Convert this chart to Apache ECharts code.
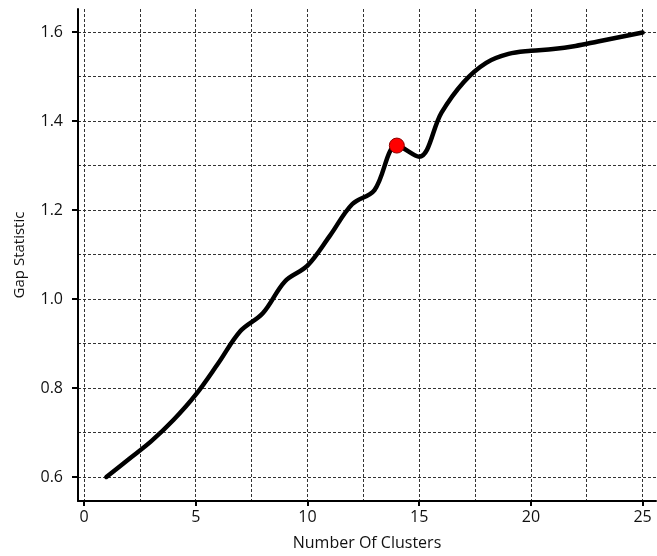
<!DOCTYPE html>
<html>
<head>
<meta charset="utf-8">
<script src="https://cdn.jsdelivr.net/npm/echarts@6/dist/echarts.min.js"></script>
<style>html,body{margin:0;padding:0;background:#fff}#c{width:657px;height:556px}</style>
</head>
<body>
<div id="c"></div>
<script>
const clusters = [1,2,3,4,5,6,7,8,9,10,11,12,13,14,15,16,17,18,19,20,21,22,23,24,25];
const gapValues = [0.600,0.640,0.680,0.728,0.785,0.855,0.928,0.968,1.040,1.075,1.142,1.213,1.245,1.345,1.320,1.419,1.488,1.531,1.551,1.558,1.562,1.569,1.579,1.589,1.599];
const bestK = 14;
const bestGap = 1.345;
const xLabelTicks = [0,5,10,15,20,25];
const xGridTicks = [0,2.5,5,7.5,10,12.5,15,17.5,20,22.5,25];
const yLabelTicks = [0.6,0.8,1.0,1.2,1.4,1.6];
const yGridTicks = [0.6,0.7,0.8,0.9,1.0,1.1,1.2,1.3,1.4,1.5,1.6];
const xTitle = 'Number Of Clusters';
const yTitle = 'Gap Statistic';

const font = '"Open Sans", "Noto Sans", sans-serif';
const txt = '#111';
const chart = echarts.init(document.getElementById('c'), null, {renderer: 'canvas'});
const xMin = -0.27, xMax = 25.6, yMin = 0.546, yMax = 1.652;
const dashed = {show: true, lineStyle: {color: '#333', width: 1, type: [3, 2]}};
chart.setOption({
  animation: false,
  backgroundColor: '#fff',
  grid: {left: 78, right: 1, top: 9, bottom: 53.5, containLabel: false},
  xAxis: [
    {
      type: 'value', min: xMin, max: xMax, position: 'bottom',
      name: xTitle, nameLocation: 'middle', nameGap: 34,
      nameTextStyle: {fontFamily: font, fontSize: 16, color: txt},
      axisLine: {show: true, onZero: false, lineStyle: {color: '#000', width: 2}},
      axisTick: {show: true, length: 5, inside: false, lineStyle: {color: '#000', width: 2}, customValues: xLabelTicks},
      axisLabel: {show: true, margin: 8, fontFamily: font, fontSize: 16, color: txt, customValues: xLabelTicks, formatter: v => String(v)},
      splitLine: {show: false}
    },
    {
      type: 'value', min: xMin, max: xMax, position: 'bottom',
      axisLine: {show: false}, axisLabel: {show: false},
      axisTick: {show: false, customValues: xGridTicks},
      splitLine: dashed
    }
  ],
  yAxis: [
    {
      type: 'value', min: yMin, max: yMax, position: 'left',
      name: yTitle, nameLocation: 'middle', nameGap: 51, nameRotate: 90,
      nameTextStyle: {fontFamily: font, fontSize: 15, color: txt},
      axisLine: {show: true, onZero: false, lineStyle: {color: '#000', width: 2}},
      axisTick: {show: true, length: 6, inside: false, lineStyle: {color: '#000', width: 2}, customValues: yLabelTicks},
      axisLabel: {show: true, margin: 15, fontFamily: font, fontSize: 16, color: txt, customValues: yLabelTicks, formatter: v => v.toFixed(1)},
      splitLine: {show: false}
    },
    {
      type: 'value', min: yMin, max: yMax, position: 'left',
      axisLine: {show: false}, axisLabel: {show: false},
      axisTick: {show: false, customValues: yGridTicks},
      splitLine: dashed
    }
  ],
  series: [
    {
      type: 'line', xAxisIndex: 0, yAxisIndex: 0,
      data: clusters.map((k, i) => [k, gapValues[i]]),
      smooth: 0.35, showSymbol: false, symbol: 'none',
      lineStyle: {color: '#000', width: 4.5, cap: 'round', join: 'round'},
      z: 3
    },
    {
      type: 'scatter', xAxisIndex: 0, yAxisIndex: 0,
      data: [[bestK, bestGap]],
      symbol: 'circle', symbolSize: 15,
      itemStyle: {color: '#ff0000', borderColor: '#8b0000', borderWidth: 1, opacity: 1},
      z: 4
    }
  ]
});
</script>
</body>
</html>
